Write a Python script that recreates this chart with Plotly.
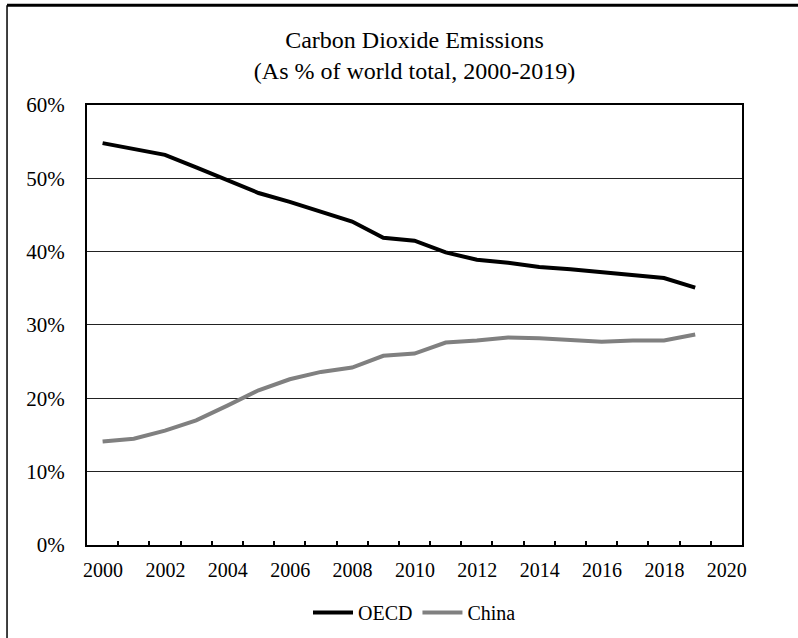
import plotly.graph_objects as go

# Share of world CO2 emissions, percent
years = list(range(2000, 2020))
oecd = [54.8, 54.0, 53.2, 51.5, 49.7, 48.0, 46.8, 45.4, 44.1, 41.9,
        41.5, 39.9, 38.9, 38.5, 37.9, 37.6, 37.2, 36.9, 36.4, 35.1]
china = [14.1, 14.5, 15.6, 17.0, 19.0, 21.1, 22.6, 23.6, 24.2, 25.8,
         26.1, 27.6, 27.9, 28.3, 28.2, 28.0, 27.7, 27.9, 27.9, 28.7]

x_labels = list(range(2000, 2021, 2))
y_ticks = [0, 10, 20, 30, 40, 50, 60]

serif = "'Liberation Serif', 'Times New Roman', serif"
tick_font = dict(family=serif, size=20, color="#000000")

fig = go.Figure()
fig.add_trace(go.Scatter(x=years, y=oecd, mode="lines", name="OECD",
                         line=dict(color="#000000", width=4)))
fig.add_trace(go.Scatter(x=years, y=china, mode="lines", name="China",
                         line=dict(color="#808080", width=4)))

# Category-style axis: tick marks sit on the boundaries between years,
# labels are shifted half a category to sit under each year.
fig.update_layout(
    width=798, height=638,
    margin=dict(l=87, r=56, t=105, b=92),
    paper_bgcolor="white", plot_bgcolor="white",
    font=dict(family=serif, size=20, color="#000000"),
    title=dict(text="Carbon Dioxide Emissions<br>(As % of world total, 2000-2019)",
               x=0.5, xref="paper", xanchor="center",
               y=0.925, yref="container", yanchor="middle",
               font=dict(family=serif, size=24, color="#000000")),
    showlegend=True,
    legend=dict(orientation="h", x=0.5, xanchor="center", xref="paper",
                y=0.04, yref="container", yanchor="middle",
                font=dict(family=serif, size=20, color="#000000"),
                itemwidth=40, tracegroupgap=0),
    xaxis=dict(range=[1999.5, 2020.5], tickmode="array",
               tickvals=[v - 0.5 for v in x_labels],
               ticktext=[str(v) for v in x_labels],
               ticks="inside", ticklen=4, tickwidth=2, tickcolor="#000000",
               ticklabelshift=16, ticklabelstandoff=6,
               tickfont=tick_font,
               showgrid=False, zeroline=False,
               showline=True, linecolor="#000000", linewidth=2, mirror=True,
               minor=dict(tickmode="linear", tick0=0.5, dtick=1,
                          ticks="inside", ticklen=4, tickwidth=2,
                          tickcolor="#000000", showgrid=False)),
    yaxis=dict(range=[0, 60], tickmode="array", tickvals=y_ticks,
               ticktext=[f"{v}%" for v in y_ticks], ticks="",
               ticklabelstandoff=16, tickfont=dict(family=serif, size=21,
                                                   color="#000000"),
               showgrid=True, gridcolor="#222222", gridwidth=1,
               zeroline=False,
               showline=True, linecolor="#000000", linewidth=2, mirror=True),
)

# Outer frame segments along the top and left edges of the page
fig.add_shape(type="line", xref="paper", yref="paper",
              x0=-0.1221, x1=1.09, y0=1.2268, y1=1.2268,
              line=dict(color="#000000", width=3))
fig.add_shape(type="line", xref="paper", yref="paper",
              x0=-0.1221, x1=-0.1221, y0=1.2268, y1=-0.22,
              line=dict(color="#000000", width=1.5))

fig.write_html("out.html")
